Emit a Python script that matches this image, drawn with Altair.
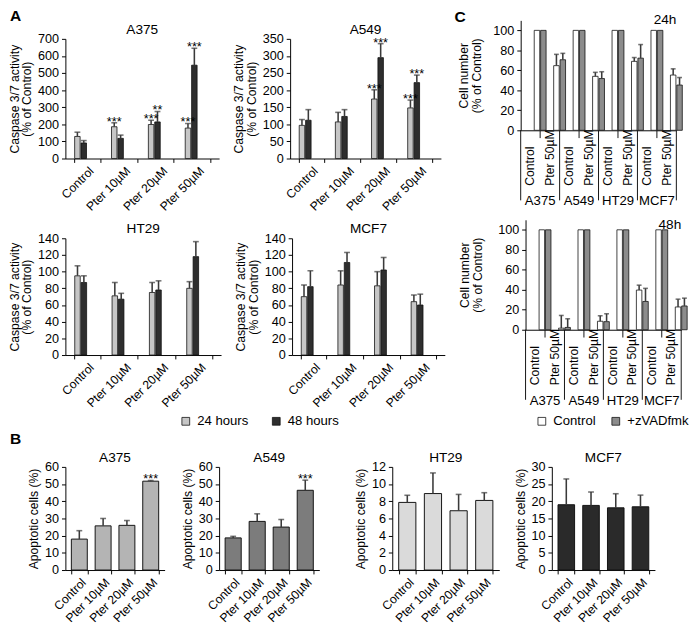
import altair as alt
import pandas as pd

FONT = "Liberation Sans"
INK = "#111111"
ERR = "#3a3a3a"

# ---------------- data ----------------
treatments = ["Control", "Pter 10µM", "Pter 20µM", "Pter 50µM"]
hours = ["24 hours", "48 hours"]
hour_colors = ["#c6c6c6", "#2e2e2e"]

# Panel A: caspase 3/7 activity (% of control)
casp_a375_24 = [129, 186, 199, 178]
casp_a375_24_sd = [25, 23, 25, 27]
casp_a375_48 = [91, 118, 214, 546]
casp_a375_48_sd = [14, 19, 61, 99]
casp_a375_24_sig = ["", "***", "***", "***"]
casp_a375_48_sig = ["", "", "**", "***"]

casp_a549_24 = [97, 107, 174, 148]
casp_a549_24_sd = [17, 28, 27, 23]
casp_a549_48 = [112, 123, 295, 222]
casp_a549_48_sd = [31, 20, 41, 22]
casp_a549_24_sig = ["", "", "***", "***"]
casp_a549_48_sig = ["", "", "***", "***"]

casp_ht29_24 = [95, 71, 75, 80]
casp_ht29_24_sd = [12, 16, 12, 8]
casp_ht29_48 = [87, 67, 78, 118]
casp_ht29_48_sd = [8, 7, 11, 18]

casp_mcf7_24 = [70, 84, 83, 64]
casp_mcf7_24_sd = [14, 17, 17, 8]
casp_mcf7_48 = [82, 111, 102, 60]
casp_mcf7_48_sd = [19, 12, 15, 13]

no_sig = ["", "", "", ""]

# Panel B: apoptotic cells (%)
apo_a375 = [18.0, 25.7, 26.0, 51.7]
apo_a375_sd = [4.9, 4.3, 2.8, 0.4]
apo_a375_sig = ["", "", "", "***"]
apo_a549 = [18.7, 28.3, 25.0, 46.4]
apo_a549_sd = [0.9, 4.4, 4.4, 5.9]
apo_a549_sig = ["", "", "", "***"]
apo_ht29 = [7.87, 8.9, 6.9, 8.1]
apo_ht29_sd = [0.83, 2.4, 1.9, 0.9]
apo_mcf7 = [19.0, 18.8, 18.1, 18.4]
apo_mcf7_sd = [7.5, 3.9, 4.1, 3.4]

# Panel C: cell number (% of control)
cells = ["A375", "A549", "HT29", "MCF7"]
c_treats = ["Control", "Pter 50µM"]
conds = ["Control", "+zVADfmk"]
cond_colors = ["#ffffff", "#8c8c8c"]

cn24_untreated_ctrl = [100, 100, 100, 100]
cn24_untreated_zvad = [100, 100, 100, 100]
cn24_pter_ctrl = [64.7, 54.0, 69.0, 55.3]
cn24_pter_ctrl_sd = [11.3, 4.0, 3.8, 6.2]
cn24_pter_zvad = [70.6, 51.8, 72.2, 45.3]
cn24_pter_zvad_sd = [6.4, 6.8, 13.6, 7.5]

cn48_untreated_ctrl = [100, 100, 100, 100]
cn48_untreated_zvad = [100, 100, 100, 100]
cn48_pter_ctrl = [1.6, 8.5, 39.7, 22.8]
cn48_pter_ctrl_sd = [12.7, 5.5, 4.9, 7.8]
cn48_pter_zvad = [2.3, 8.1, 28.3, 23.8]
cn48_pter_zvad_sd = [8.7, 7.9, 13.1, 7.8]


def label_layer(text, x, y, size=14, bold=False, align="center"):
    return alt.Chart(pd.DataFrame({"t": [text]})).mark_text(
        fontSize=size, fontWeight="bold" if bold else "normal", align=align,
        baseline="alphabetic", font=FONT, color="#000"
    ).encode(text="t:N", x=alt.value(x), y=alt.value(y))


def star_layer(base, ys, ya, yt):
    return base.mark_text(fontSize=13, dy=3, baseline="alphabetic", font=FONT, color="#000").encode(
        y=alt.Y("hi:Q", scale=ys, axis=ya, title=yt), text="sig:N", color=alt.value("#000"))


def legend_layer(field, domain, colors, lx, ly, pad):
    lg = alt.Legend(orient="none", legendX=lx, legendY=ly, direction="horizontal", columns=2,
                    title=None, symbolType="square", symbolSize=64, labelFontSize=13.5,
                    columnPadding=pad, symbolStrokeColor=INK, symbolStrokeWidth=0.8,
                    labelFont=FONT, labelColor="#000", labelOffset=5)
    return alt.Chart(pd.DataFrame({field: domain})).transform_filter("false").mark_bar(
        stroke=INK, strokeWidth=0.8).encode(
        color=alt.Color(f"{field}:N", scale=alt.Scale(domain=domain, range=colors), legend=lg))


XLAB = dict(labelAngle=-45, tickBand="extent", tickSize=4, labelPadding=2, labelFontSize=12.5)


def caspase(name, v24, e24, v48, e48, g24, g48, ymax, step, w, h, letter=None):
    rows = []
    for i, t in enumerate(treatments):
        rows.append({"treat": t, "time": hours[0], "v": v24[i], "hi": v24[i] + e24[i], "sig": g24[i]})
        rows.append({"treat": t, "time": hours[1], "v": v48[i], "hi": v48[i] + e48[i], "sig": g48[i]})
    df = pd.DataFrame(rows)
    xs = alt.Scale(domain=treatments, paddingInner=0.29, paddingOuter=0.23)
    base = alt.Chart(df).encode(
        x=alt.X("treat:N", scale=xs, axis=alt.Axis(**XLAB), title=None),
        xOffset=alt.XOffset("time:N", scale=alt.Scale(domain=hours, paddingInner=0.14)),
    )
    ys = alt.Scale(domain=[0, ymax], nice=False)
    ya = alt.Axis(values=list(range(0, ymax + 1, step)), tickSize=4, titleLineHeight=13, titlePadding=4)
    yt = ["Caspase 3/7 activity", "(% of Control)"]
    bars = base.mark_bar(stroke=INK, strokeWidth=0.8).encode(
        y=alt.Y("v:Q", scale=ys, axis=ya, title=yt),
        color=alt.Color("time:N", scale=alt.Scale(domain=hours, range=hour_colors), legend=None),
    )
    err = base.mark_rule(color=ERR, strokeWidth=1.6).encode(
        y=alt.Y("v:Q", scale=ys, axis=ya, title=yt), y2="hi:Q")
    cap = base.mark_tick(color=ERR, thickness=1.6, size=6).encode(
        y=alt.Y("hi:Q", scale=ys, axis=ya, title=yt))
    star = star_layer(base, ys, ya, yt)
    layers = [bars, err, cap, star, label_layer(name, w / 2, -5)]
    if letter:
        layers.append(label_layer(letter, -57, -18, 16, True, "left"))
    return alt.layer(*layers).properties(width=w, height=h)


def apoptosis(name, vals, sds, sig, color, ymax, step, w, h, letter=None, extra=None):
    df = pd.DataFrame({"treat": treatments, "v": vals,
                       "hi": [v + s for v, s in zip(vals, sds)], "sig": sig})
    xs = alt.Scale(domain=treatments, paddingInner=0.33, paddingOuter=0.25)
    ys = alt.Scale(domain=[0, ymax], nice=False)
    ya = alt.Axis(values=list(range(0, ymax + 1, step)), tickSize=4, titlePadding=4)
    yt = "Apoptotic cells (%)"
    base = alt.Chart(df).encode(x=alt.X("treat:N", scale=xs, axis=alt.Axis(**XLAB), title=None))
    bars = base.mark_bar(stroke=INK, strokeWidth=1, color=color).encode(
        y=alt.Y("v:Q", scale=ys, axis=ya, title=yt))
    err = base.mark_rule(color=ERR, strokeWidth=1.6).encode(
        y=alt.Y("v:Q", scale=ys, axis=ya, title=yt), y2="hi:Q")
    cap = base.mark_tick(color=ERR, thickness=1.6, size=6).encode(
        y=alt.Y("hi:Q", scale=ys, axis=ya, title=yt))
    star = star_layer(base, ys, ya, yt)
    layers = [bars, err, cap, star, label_layer(name, w / 2, -5)]
    if extra is not None:
        layers.append(extra)
    if letter:
        layers.append(label_layer(letter, -57, -24, 16, True, "left"))
    return alt.layer(*layers).properties(width=w, height=h)


def cellnum(label, uc, uz, pc, pcs, pz, pzs, w, h, top, label_y, tpad, letter=None):
    keys = [f"{c}|{t}" for c in cells for t in c_treats]
    rows = []
    for i, c in enumerate(cells):
        rows.append({"ct": f"{c}|Control", "cond": conds[0], "v": uc[i], "hi": uc[i]})
        rows.append({"ct": f"{c}|Control", "cond": conds[1], "v": uz[i], "hi": uz[i]})
        rows.append({"ct": f"{c}|Pter 50µM", "cond": conds[0], "v": pc[i], "hi": pc[i] + pcs[i]})
        rows.append({"ct": f"{c}|Pter 50µM", "cond": conds[1], "v": pz[i], "hi": pz[i] + pzs[i]})
    df = pd.DataFrame(rows)
    xs = alt.Scale(domain=keys, paddingInner=0, paddingOuter=0)
    xa = alt.Axis(labels=False, ticks=False, title=None)

    def X(bp=None):
        if bp is None:
            return alt.X("ct:N", scale=xs, axis=xa, title=None)
        return alt.X("ct:N", scale=xs, axis=xa, title=None, bandPosition=bp)

    ys = alt.Scale(domain=[0, 110], range=[h, top], nice=False)
    ya = alt.Axis(values=[0, 20, 40, 60, 80, 100], tickSize=4, titleLineHeight=13, titlePadding=tpad)
    yt = ["Cell number", "(% of Control)"]
    base = alt.Chart(df).encode(
        x=X(),
        xOffset=alt.XOffset("cond:N", scale=alt.Scale(domain=conds, paddingInner=0, paddingOuter=0.12)),
    )
    bars = base.mark_bar(stroke=INK, strokeWidth=0.8).encode(
        y=alt.Y("v:Q", scale=ys, axis=ya, title=yt),
        color=alt.Color("cond:N", scale=alt.Scale(domain=conds, range=cond_colors), legend=None),
    )
    eb = base.transform_filter("datum.hi > datum.v")
    err = eb.mark_rule(color=ERR, strokeWidth=1.6).encode(
        y=alt.Y("v:Q", scale=ys, axis=ya, title=yt), y2="hi:Q")
    cap = eb.mark_tick(color=ERR, thickness=1.6, size=5).encode(
        y=alt.Y("hi:Q", scale=ys, axis=ya, title=yt))

    starts = pd.DataFrame({"ct": [f"{c}|Control" for c in cells], "cell": cells})
    mids = pd.DataFrame({"ct": [f"{c}|Pter 50µM" for c in cells]})
    last = pd.DataFrame({"ct": [keys[-1]]})
    labs = pd.DataFrame({"ct": keys, "treat": [k.split("|")[1] for k in keys]})

    long_rules = alt.Chart(starts).mark_rule(color=INK, strokeWidth=1).encode(
        x=X(0), y=alt.value(h), y2=alt.value(h + 72))
    end_rule = alt.Chart(last).mark_rule(color=INK, strokeWidth=1).encode(
        x=X(1), y=alt.value(h), y2=alt.value(h + 72))
    short_rules = alt.Chart(mids).mark_rule(color=INK, strokeWidth=1).encode(
        x=X(0), y=alt.value(h), y2=alt.value(h + 8))
    treat_txt = alt.Chart(labs).mark_text(angle=270, align="left", baseline="middle",
                                          fontSize=12.5, font=FONT, color="#000").encode(
        x=X(), y=alt.value(h + 57), text="treat:N")
    cell_txt = alt.Chart(starts).mark_text(fontSize=13.5, baseline="alphabetic", font=FONT,
                                           color="#000").encode(
        x=X(1), y=alt.value(h + 77), text="cell:N")
    layers = [bars, err, cap, long_rules, end_rule, short_rules, treat_txt, cell_txt,
              label_layer(label, w, label_y, 14, False, "right")]
    if letter:
        layers.append(label_layer(letter, -68, -17, 16, True, "left"))
    return alt.layer(*layers).properties(width=w, height=h)


a1 = caspase("A375", casp_a375_24, casp_a375_24_sd, casp_a375_48, casp_a375_48_sd,
             casp_a375_24_sig, casp_a375_48_sig, 700, 100, 158, 123, letter="A")
a2 = caspase("A549", casp_a549_24, casp_a549_24_sd, casp_a549_48, casp_a549_48_sd,
             casp_a549_24_sig, casp_a549_48_sig, 350, 50, 155, 123)
a3 = caspase("HT29", casp_ht29_24, casp_ht29_24_sd, casp_ht29_48, casp_ht29_48_sd,
             no_sig, no_sig, 140, 20, 160, 120)
a4 = caspase("MCF7", casp_mcf7_24, casp_mcf7_24_sd, casp_mcf7_48, casp_mcf7_48_sd,
             no_sig, no_sig, 140, 20, 157, 120)

c1 = cellnum("24h", cn24_untreated_ctrl, cn24_untreated_zvad, cn24_pter_ctrl, cn24_pter_ctrl_sd,
             cn24_pter_zvad, cn24_pter_zvad_sd, 160, 94, -19, -15, 10, letter="C")
c2 = cellnum("48h", cn48_untreated_ctrl, cn48_untreated_zvad, cn48_pter_ctrl, cn48_pter_ctrl_sd,
             cn48_pter_zvad, cn48_pter_zvad_sd, 160, 94, -19, -10, 14)

leg_hours = legend_layer("time", hours, hour_colors, -41, -54, 21)
leg_conds = legend_layer("cond", conds, cond_colors, -17, -54, 13)

b1 = apoptosis("A375", apo_a375, apo_a375_sd, apo_a375_sig, "#b4b4b4", 60, 10, 102, 106, letter="B")
b2 = apoptosis("A549", apo_a549, apo_a549_sd, apo_a549_sig, "#7c7c7c", 60, 10, 103, 106,
               extra=leg_hours)
b3 = apoptosis("HT29", apo_ht29, apo_ht29_sd, no_sig, "#dadada", 12, 2, 110, 106)
b4 = apoptosis("MCF7", apo_mcf7, apo_mcf7_sd, no_sig, "#2a2a2a", 30, 5, 106, 106,
               extra=leg_conds)

ind = dict(color="independent")
r1 = alt.hconcat(a1, a2, c1, spacing=14).resolve_scale(**ind).resolve_legend(**ind)
r2 = alt.hconcat(a3, a4, c2, spacing=14).resolve_scale(**ind).resolve_legend(**ind)
r3 = alt.hconcat(b1, b2, b3, b4, spacing=15).resolve_scale(**ind).resolve_legend(**ind)

chart = alt.vconcat(r1, r2, r3, spacing=5).resolve_scale(**ind).resolve_legend(**ind).properties(
    padding={"top": -8, "left": 0, "right": 0, "bottom": 0}
).configure_view(stroke=None).configure_axis(
    labelFont=FONT, titleFont=FONT, labelColor="#000", titleColor="#000",
    domainColor="#000", tickColor="#000", grid=False, labelFontSize=13,
    titleFontSize=12.5, titleFontWeight="normal", labelPadding=3
).configure_title(
    font=FONT, fontSize=14, fontWeight="normal", color="#000"
).configure_text(font=FONT, color="#000")

chart.save("out.html", embed_options={"renderer": "svg", "actions": False})
